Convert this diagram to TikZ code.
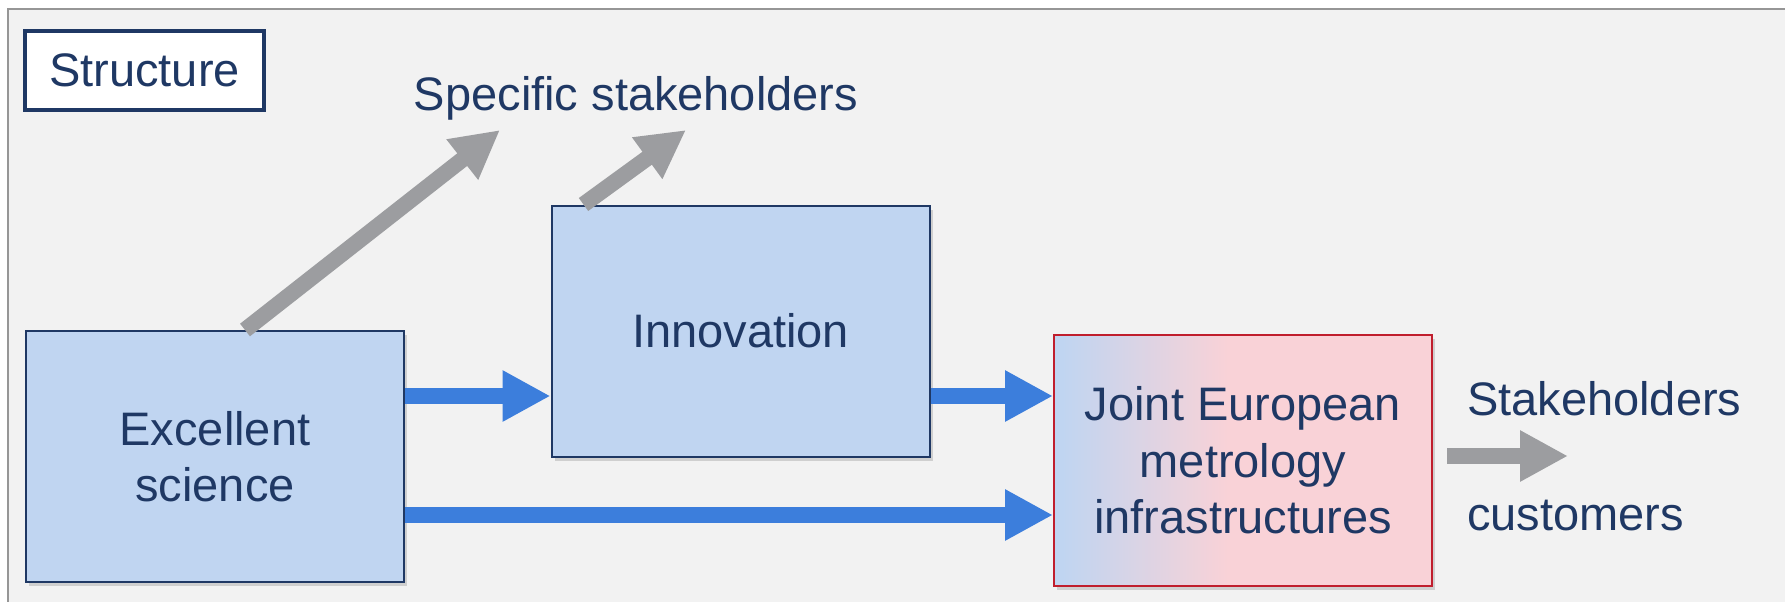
\documentclass[tikz,border=0pt]{standalone}
\usepackage{fontspec}
\setmainfont{Liberation Sans}
\usetikzlibrary{arrows.meta,shadows}
\definecolor{navy}{RGB}{31,56,100}
\definecolor{boxblue}{RGB}{192,213,241}
\definecolor{boxpink}{RGB}{249,210,215}
\definecolor{arrblue}{RGB}{60,126,220}
\definecolor{arrgray}{RGB}{156,157,160}
\definecolor{bggray}{RGB}{242,242,242}
\definecolor{framegray}{RGB}{150,150,150}
\definecolor{jred}{RGB}{192,30,45}
\pgfdeclarehorizontalshading{jemishade}{100bp}{color(0bp)=(boxblue); color(26bp)=(boxblue); color(48bp)=(boxpink); color(100bp)=(boxpink)}

\begin{document}
\begin{tikzpicture}[x=0.5pt,y=-0.5pt,
	txt/.style={text=navy,font=\fontsize{23.5}{28.25}\selectfont},
	block/.style={txt,draw=navy,line width=1pt,fill=boxblue,align=center,minimum width=189pt,minimum height=125.5pt,inner sep=0pt,drop shadow={shadow xshift=1.5pt,shadow yshift=-2pt,opacity=0.3}},
	fatarrow/.style={line width=8pt,-{Triangle[length=24pt,width=24pt]}},
	bluearr/.style={fatarrow,draw=arrblue},
	grayarr/.style={fatarrow,draw=arrgray}]
	\useasboundingbox (0,0) rectangle (1785,601);
	\fill[white] (0,0) rectangle (1785,601);
	\draw[fill=bggray,draw=framegray,line width=1pt] (8,9) rectangle (1800,620);
	\node[txt,draw=navy,line width=1.6pt,fill=white,minimum width=119.5pt,minimum height=39.5pt,inner sep=0pt] (struct) at (144.5,70.5) {Structure};
	\node[txt,anchor=base] (spec) at (636,110) {Specific stakeholders};
	\node[block] (es) at (215,456.5) {Excellent\\science};
	\node[block] (inno) at (740.5,331) {Innovation};
	\node[block,draw=jred,shading=jemishade] (jemi) at (1243,460.5) {Joint European\\metrology\\infrastructures};
	\node[txt,anchor=base west] (stake) at (1460,415) {Stakeholders};
	\node[txt,anchor=base west] (cust) at (1460,530) {customers};
	\coordinate (t1) at (500,130);
	\coordinate (t2) at (686,130);
	\coordinate (t3) at (1568,456);
	\draw[grayarr] ([xshift=15pt]es.north) -- (t1);
	\draw[grayarr] ([xshift=16.5pt]inno.north west) -- (t2);
	\draw[grayarr] ([xshift=7pt,yshift=2.25pt]jemi.east) -- (t3);
	\draw[bluearr] ([yshift=30.25pt]es.east) -- ([yshift=-32.5pt]inno.west);
	\draw[bluearr] ([yshift=-29.25pt]es.east) -- ([yshift=-27.25pt]jemi.west);
	\draw[bluearr] ([yshift=-32.5pt]inno.east) -- ([yshift=32.25pt]jemi.west);
\end{tikzpicture}
\end{document}
